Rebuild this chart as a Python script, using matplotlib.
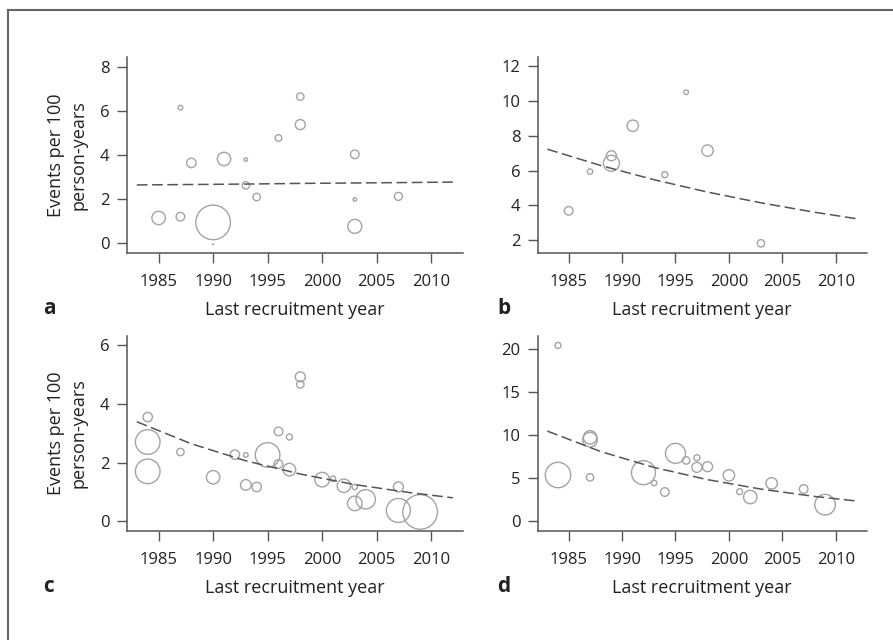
import matplotlib.pyplot as plt
from matplotlib.lines import Line2D

plt.rcParams['font.family'] = ['Open Sans', 'DejaVu Sans']

# panel a: study year, event rate and study weight (bubble radius)
a_year = [1985, 1987, 1987, 1988, 1990, 1990, 1991, 1993, 1993, 1994,
          1996, 1998, 1998, 2003, 2003, 2003, 2007]
a_rate = [1.14, 6.15, 1.20, 3.64, 0.94, -0.05, 3.82, 3.79, 2.62, 2.09,
          4.77, 6.65, 5.38, 4.03, 1.98, 0.76, 2.12]
a_wt = [6.7, 2.3, 4.3, 4.7, 17.3, 0.4, 6.7, 1.7, 3.7, 3.7,
        3.3, 3.7, 5.0, 4.3, 1.7, 7.0, 4.0]

# panel b
b_year = [1985, 1987, 1989, 1989, 1991, 1994, 1996, 1998, 2003]
b_rate = [3.68, 5.94, 6.85, 6.42, 8.58, 5.76, 10.51, 7.15, 1.81]
b_wt = [4.3, 2.7, 5.0, 8.0, 5.7, 3.0, 2.3, 5.7, 3.7]

# panel c
c_year = [1984, 1984, 1984, 1987, 1990, 1992, 1993, 1993, 1994, 1995,
          1996, 1996, 1997, 1997, 1998, 1998, 2000, 2001, 2002, 2003,
          2003, 2004, 2007, 2007, 2009]
c_rate = [3.55, 2.70, 1.70, 2.36, 1.50, 2.27, 2.26, 1.24, 1.17, 2.26,
          3.06, 1.95, 2.87, 1.76, 4.92, 4.66, 1.42, 1.45, 1.21, 1.17,
          0.61, 0.75, 1.17, 0.37, 0.32]
c_wt = [4.7, 12.3, 12.3, 3.7, 6.7, 4.7, 2.3, 5.3, 4.7, 12.3,
        4.3, 4.3, 3.0, 6.3, 5.0, 3.7, 7.3, 2.7, 6.7, 2.7,
        7.3, 9.7, 5.0, 12.0, 17.3]

# panel d
d_year = [1984, 1984, 1987, 1987, 1987, 1992, 1993, 1994, 1995, 1996,
          1997, 1997, 1998, 2000, 2001, 2002, 2004, 2007, 2009]
d_rate = [20.47, 5.39, 9.77, 9.50, 5.12, 5.66, 4.46, 3.41, 7.91, 7.09,
          7.40, 6.28, 6.36, 5.35, 3.45, 2.83, 4.42, 3.76, 1.94]
d_wt = [3.0, 12.7, 6.7, 7.3, 3.7, 12.0, 2.7, 4.3, 10.0, 3.7,
        3.0, 5.0, 5.0, 5.7, 3.0, 6.7, 5.7, 4.3, 10.3]

# meta-regression fit lines
fit_year = [1983, 1988, 1993, 1998, 2003, 2008, 2012]
a_fit = [2.64, 2.66, 2.68, 2.71, 2.73, 2.75, 2.77]
b_fit = [7.23, 6.29, 5.47, 4.76, 4.14, 3.60, 3.22]
c_fit = [3.39, 2.64, 2.06, 1.61, 1.25, 0.98, 0.80]
d_fit = [10.50, 8.12, 6.27, 4.85, 3.75, 2.90, 2.36]

a_yticks = [0, 2, 4, 6, 8]
b_yticks = [2, 4, 6, 8, 10, 12]
c_yticks = [0, 2, 4, 6]
d_yticks = [0, 5, 10, 15, 20]
xticks = [1985, 1990, 1995, 2000, 2005, 2010]

W, H = 893, 640
fig = plt.figure(figsize=(W / 100, H / 100), dpi=100)

def px_box(x0, y0, x1, y1):
    return [x0 / W, 1 - y1 / H, (x1 - x0) / W, (y1 - y0) / H]

panels = [
    ('a', a_year, a_rate, a_wt, a_fit, a_yticks, (-0.45, 8.45), px_box(127, 57, 462.7, 253), True),
    ('b', b_year, b_rate, b_wt, b_fit, b_yticks, (1.25, 12.54), px_box(537.7, 57, 866.7, 253), False),
    ('c', c_year, c_rate, c_wt, c_fit, c_yticks, (-0.34, 6.32), px_box(127, 335.7, 462.7, 531.3), True),
    ('d', d_year, d_rate, d_wt, d_fit, d_yticks, (-1.16, 21.6), px_box(537.7, 335.7, 866.7, 531.3), False),
]

axis_col = '#555555'
txt_col = '#222222'

for letter, yr, rate, wt, fit, yt, ylim, box, ylab in panels:
    ax = fig.add_axes(box)
    sizes = [(2 * w * 0.72) ** 2 for w in wt]
    ax.scatter(yr, rate, s=sizes, facecolors='none', edgecolors='#a3a3a3',
               linewidths=1.0, zorder=2)
    ax.plot(fit_year, fit, color='#555555', lw=1.1, dashes=(7, 3), zorder=3)
    ax.set_xlim(1982.1, 2012.9)
    ax.set_ylim(*ylim)
    ax.set_xticks(xticks)
    ax.set_yticks(yt)
    for s in ['top', 'right']:
        ax.spines[s].set_visible(False)
    for s in ['left', 'bottom']:
        ax.spines[s].set_color(axis_col)
        ax.spines[s].set_linewidth(1.1)
    ax.tick_params(direction='out', length=7.5, width=1.0, color=axis_col,
                   labelsize=12, labelcolor=txt_col)
    ax.tick_params(axis='x', pad=7.5)
    ax.tick_params(axis='y', pad=5)
    ax.set_xlabel('Last recruitment year', fontsize=13, color=txt_col, labelpad=8)
    if ylab:
        ax.set_ylabel('Events per 100\nperson-years', fontsize=13,
                      color=txt_col, labelpad=9, linespacing=1.3)
    x0 = 49 if letter in 'ac' else 504
    ly = (1 - 309 / H) if letter in 'ab' else (1 - 586 / H)
    fig.text(x0 / W, ly, letter, fontsize=15, fontweight='bold',
             color=txt_col, ha='center', va='center')

# frame along the top and left of the figure
fig.add_artist(Line2D([8 / W, 1], [1 - 10 / H, 1 - 10 / H], color='#666666', lw=1.5))
fig.add_artist(Line2D([8 / W, 8 / W], [0, 1 - 10 / H], color='#666666', lw=1.5))

fig.savefig('out.png', dpi=100)
